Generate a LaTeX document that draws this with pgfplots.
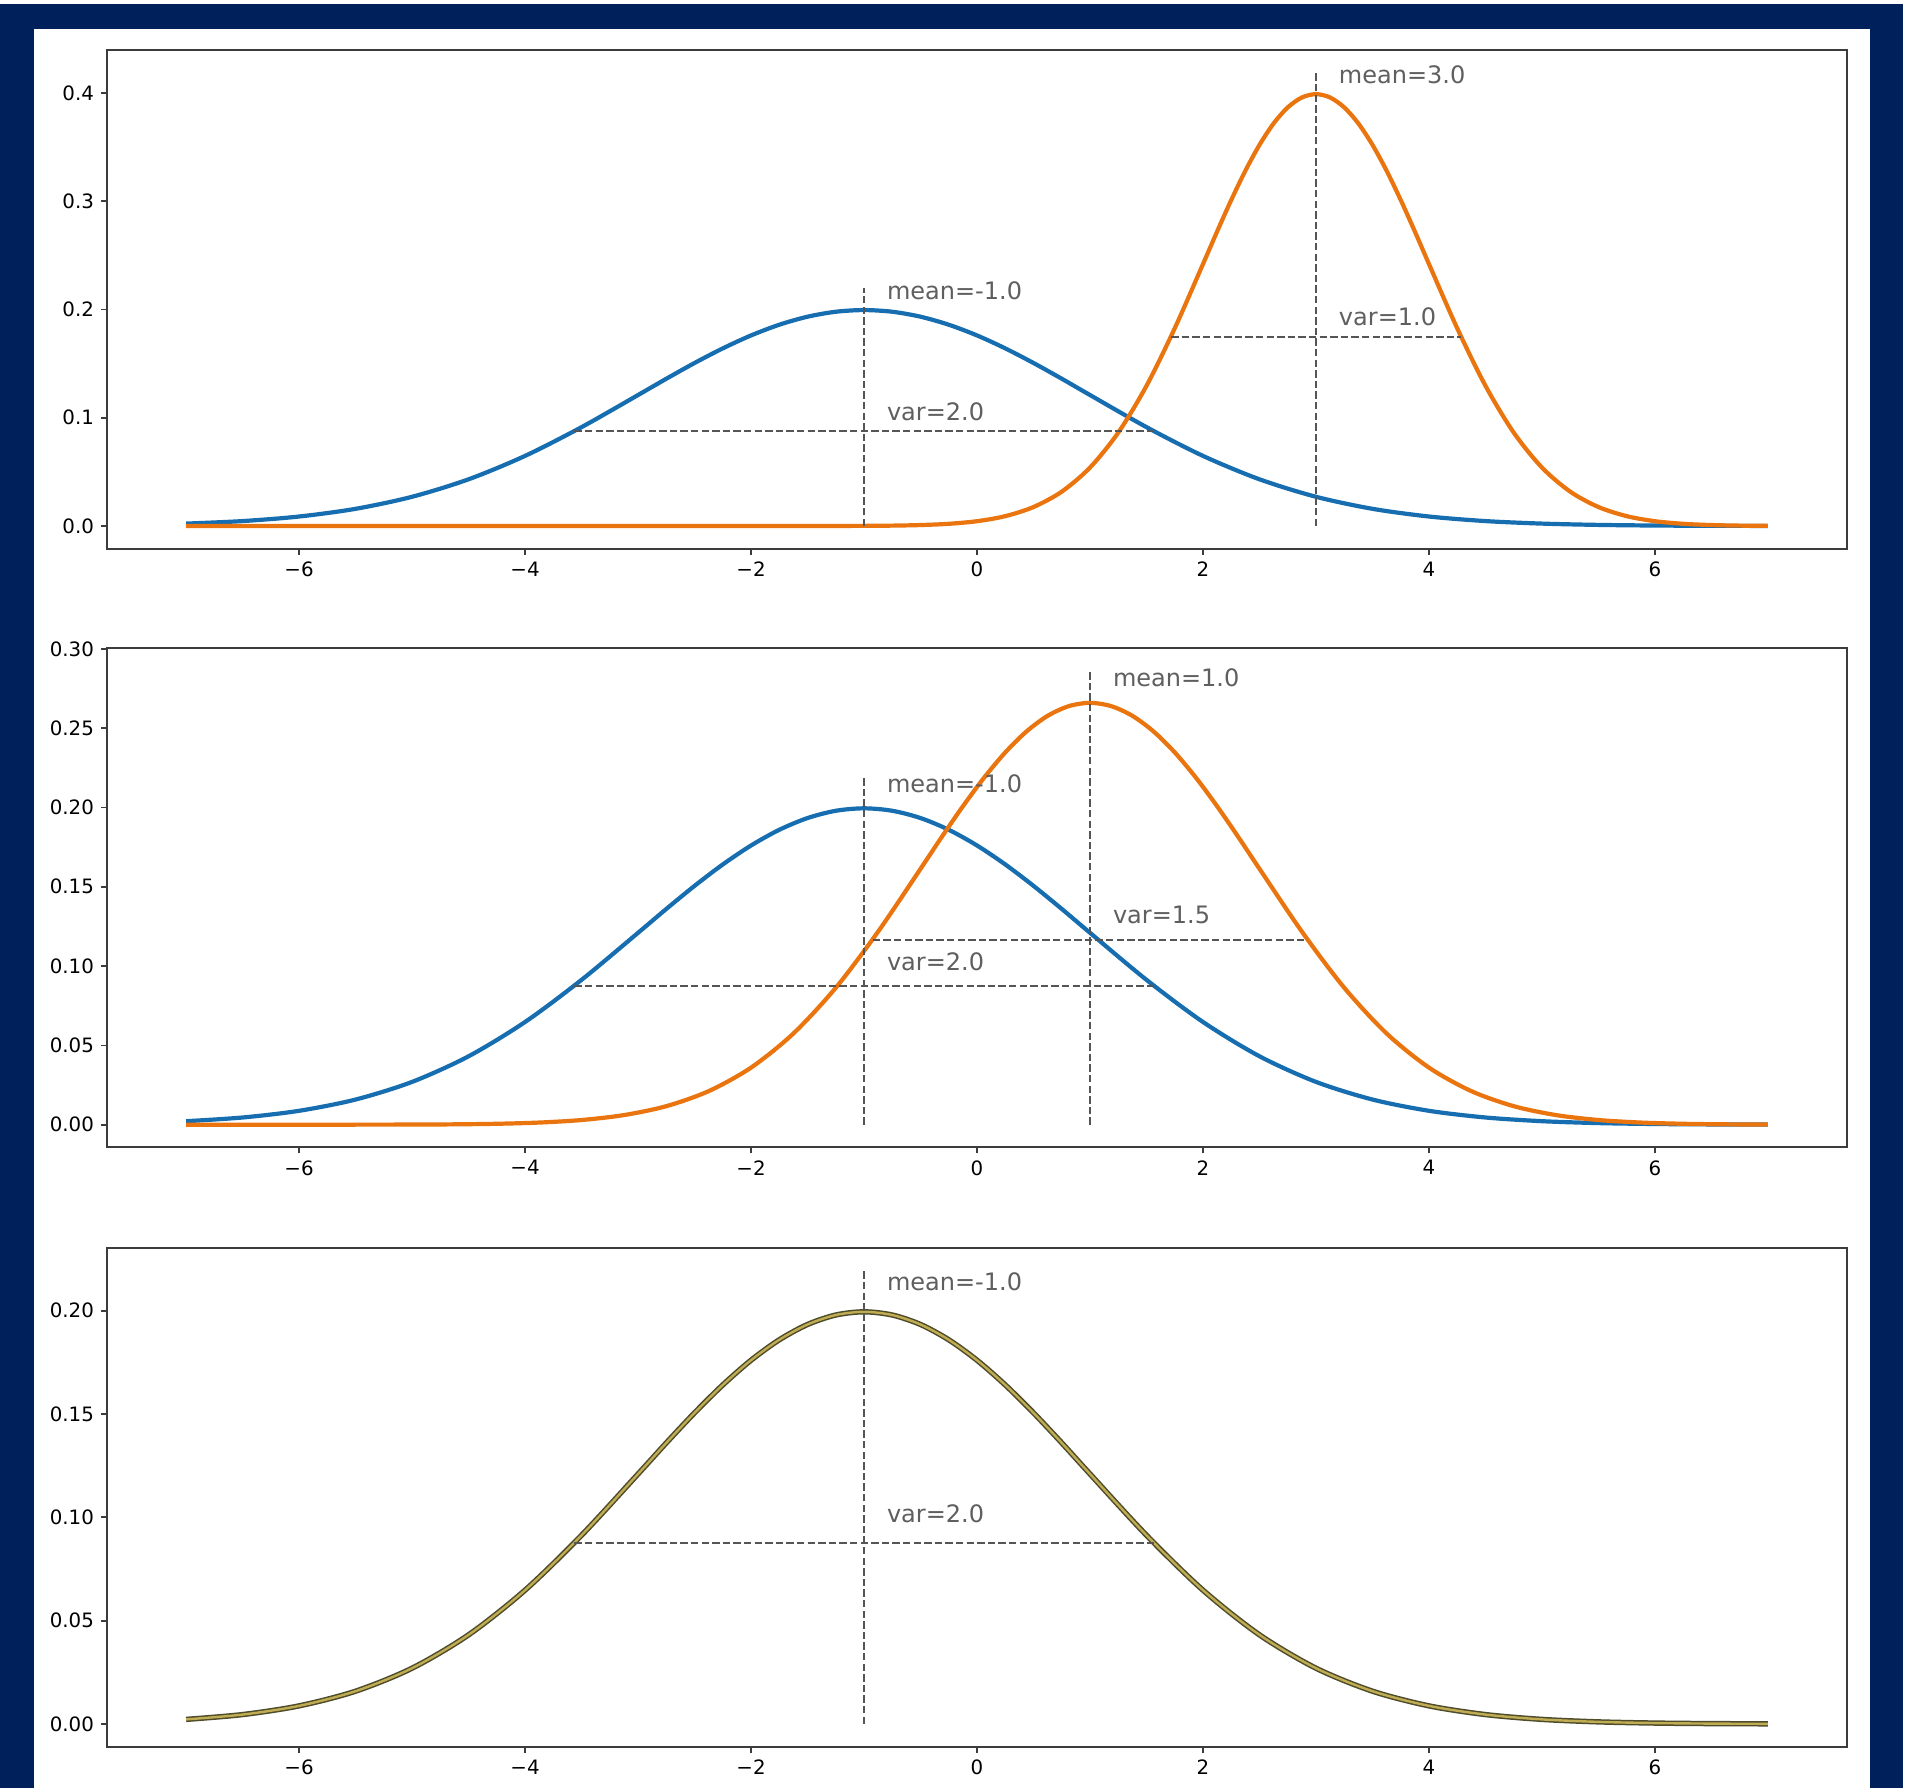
\documentclass[border=0pt]{standalone}
\usepackage{pgfplots}
\usepackage{pgfplotstable}
\pgfplotsset{compat=1.18}
\usepackage{fontspec}
\setmainfont{DejaVu Sans}
\definecolor{navy}{RGB}{0,32,91}
\definecolor{mblue}{RGB}{22,110,176}
\definecolor{morange}{RGB}{234,116,14}
\definecolor{dashgray}{RGB}{85,85,85}
\definecolor{txtgray}{RGB}{95,95,95}
\definecolor{axgray}{RGB}{60,60,60}
\definecolor{olivedark}{RGB}{78,76,42}
\definecolor{olivegold}{RGB}{192,172,82}

% N(-1, 2)
\pgfplotstableread{
x y
-7 0.002216
-6.5 0.004547
-6 0.008764
-5.5 0.015870
-5 0.026995
-4.5 0.043139
-4 0.064759
-3.5 0.091325
-3 0.120985
-2.75 0.136028
-2.5 0.150569
-2.25 0.164080
-2 0.176033
-1.75 0.185928
-1.5 0.193334
-1.25 0.197919
-1 0.199471
-0.75 0.197919
-0.5 0.193334
-0.25 0.185928
0 0.176033
0.25 0.164080
0.5 0.150569
0.75 0.136028
1 0.120985
1.5 0.091325
2 0.064759
2.5 0.043139
3 0.026995
3.5 0.015870
4 0.008764
4.5 0.004547
5 0.002216
5.5 0.001015
6 0.000437
6.5 0.000177
7 0.000067
}\blueN

% N(3, 1)
\pgfplotstableread{
x y
-7 0
-6 0
-5 0
-4 0
-3 0
-2 0.000001
-1.5 0.000016
-1 0.000134
-0.75 0.000353
-0.5 0.000873
-0.25 0.002029
0 0.004432
0.25 0.009094
0.5 0.017528
0.75 0.031740
1 0.053991
1.25 0.086277
1.5 0.129518
1.75 0.182649
2 0.241971
2.125 0.272055
2.25 0.301137
2.375 0.328161
2.5 0.352065
2.625 0.371855
2.75 0.386668
2.875 0.395838
3 0.398942
3.125 0.395838
3.25 0.386668
3.375 0.371855
3.5 0.352065
3.625 0.328161
3.75 0.301137
3.875 0.272055
4 0.241971
4.25 0.182649
4.5 0.129518
4.75 0.086277
5 0.053991
5.25 0.031740
5.5 0.017528
5.75 0.009094
6 0.004432
6.25 0.002029
6.5 0.000873
6.75 0.000353
7 0.000134
}\orangeTop

% N(1, 1.5)
\pgfplotstableread{
x y
-7 0
-6 0.000005
-5 0.000089
-4.625 0.000235
-4.25 0.000582
-3.875 0.001353
-3.5 0.002955
-3.125 0.006063
-2.75 0.011685
-2.375 0.021160
-2 0.035994
-1.625 0.057518
-1.25 0.086345
-0.875 0.121766
-0.5 0.161314
-0.3125 0.181370
-0.125 0.200758
0.0625 0.218774
0.25 0.234710
0.4375 0.247903
0.625 0.257779
0.8125 0.263892
1 0.265962
1.1875 0.263892
1.375 0.257779
1.5625 0.247903
1.75 0.234710
1.9375 0.218774
2.125 0.200758
2.3125 0.181370
2.5 0.161314
2.875 0.121766
3.25 0.086345
3.625 0.057518
4 0.035994
4.375 0.021160
4.75 0.011685
5.125 0.006063
5.5 0.002955
5.875 0.001353
6.25 0.000582
6.625 0.000235
7 0.000089
}\orangeMid

\pgfplotsset{
  common/.style={
    scale only axis, width=870pt, height=249.5pt,
    anchor=south west,
    xmin=-7.7, xmax=7.7,
    axis line style={axgray, line width=0.9pt},
    tick style={axgray, line width=0.9pt},
    tick align=outside, tick pos=left,
    major tick length=3pt,
    xtick={-6,-4,-2,0,2,4,6},
    xticklabels={−6,−4,−2,0,2,4,6},
    tick label style={font=\fontsize{9.9}{11}\selectfont, black},
    /pgf/number format/assume math mode=true,
  },
  gauss/.style={line width=2.1pt, smooth, no markers, line join=round},
  dline/.style={dashgray, line width=1pt, dash pattern=on 3.7pt off 1.6pt, no markers},
}
\tikzset{lab/.style={anchor=west, inner sep=0pt, font=\fontsize{12}{14}\selectfont, text=txtgray}}

\begin{document}
\begin{tikzpicture}
\path[use as bounding box] (0,0) rectangle (956pt,894pt);
\fill[white] (0,0) rectangle (956pt,894pt);
\fill[navy] (0,0) rectangle (951.5pt,892pt);
\fill[white] (17pt,0) rectangle (935pt,879.25pt);

% ---------- top ----------
\begin{axis}[common, at={(53.5pt,619.65pt)},
  ymin=-0.02095, ymax=0.44,
  ytick={0,0.1,0.2,0.3,0.4},
  yticklabels={0.0,0.1,0.2,0.3,0.4}]
\addplot[gauss, mblue] table {\blueN};
\addplot[gauss, morange] table {\orangeTop};
\addplot[dline] coordinates {(-1,0) (-1,0.2195)};
\addplot[dline] coordinates {(-3.563,0.0875) (1.563,0.0875)};
\addplot[dline] coordinates {(3,0) (3,0.4189)};
\addplot[dline] coordinates {(1.718,0.175) (4.282,0.175)};
\node[lab] at (axis cs:-0.8,0.2175) {mean=-1.0};
\node[lab] at (axis cs:-0.8,0.1058) {var=2.0};
\node[lab] at (axis cs:3.2,0.4169) {mean=3.0};
\node[lab] at (axis cs:3.2,0.1935) {var=1.0};
\end{axis}

% ---------- middle ----------
\begin{axis}[common, at={(53.5pt,320.3pt)},
  ymin=-0.0143, ymax=0.3003,
  ytick={0,0.05,0.1,0.15,0.2,0.25,0.3},
  yticklabels={0.00,0.05,0.10,0.15,0.20,0.25,0.30}]
\addplot[gauss, mblue] table {\blueN};
\addplot[gauss, morange] table {\orangeMid};
\addplot[dline] coordinates {(-1,0) (-1,0.2195)};
\addplot[dline] coordinates {(-3.563,0.0875) (1.563,0.0875)};
\addplot[dline] coordinates {(1,0) (1,0.286)};
\addplot[dline] coordinates {(-0.922,0.1167) (2.922,0.1167)};
\node[lab] at (axis cs:-0.8,0.2152) {mean=-1.0};
\node[lab] at (axis cs:-0.8,0.1028) {var=2.0};
\node[lab] at (axis cs:1.2,0.2815) {mean=1.0};
\node[lab] at (axis cs:1.2,0.1322) {var=1.5};
\end{axis}

% ---------- bottom ----------
\begin{axis}[common, at={(53.5pt,20.65pt)},
  ymin=-0.011, ymax=0.2305,
  ytick={0,0.05,0.1,0.15,0.2},
  yticklabels={0.00,0.05,0.10,0.15,0.20}]
\addplot[gauss, olivedark, line width=2.7pt] table {\blueN};
\addplot[gauss, olivegold, line width=1.2pt] table {\blueN};
\addplot[dline] coordinates {(-1,0) (-1,0.2195)};
\addplot[dline] coordinates {(-3.563,0.0875) (1.563,0.0875)};
\node[lab] at (axis cs:-0.8,0.2138) {mean=-1.0};
\node[lab] at (axis cs:-0.8,0.1018) {var=2.0};
\end{axis}
\end{tikzpicture}
\end{document}
